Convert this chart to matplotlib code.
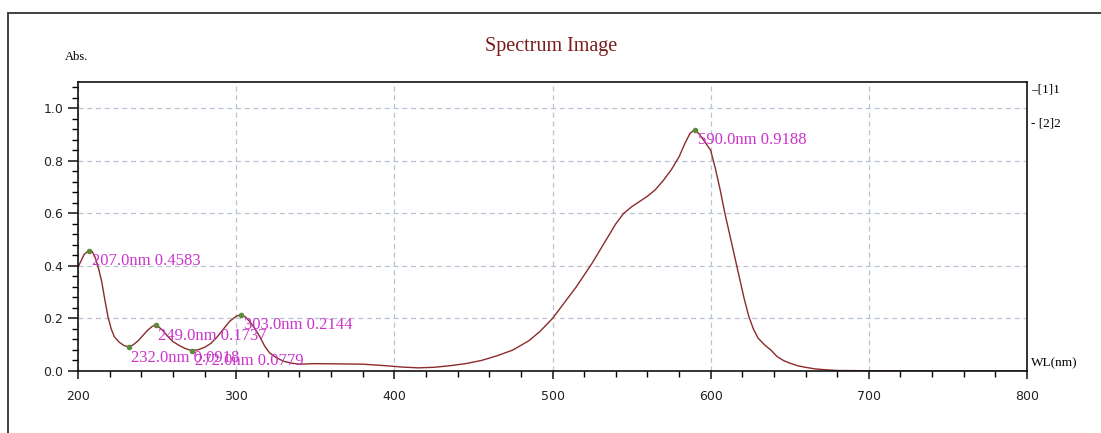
import matplotlib.pyplot as plt
from matplotlib.patches import Rectangle
from matplotlib.ticker import MultipleLocator

# absorbance spectrum
wl = [200, 202, 204, 207, 209, 211, 213, 215, 217, 219, 221, 223, 226, 229,
      232, 235, 238, 241, 244, 247, 249, 251, 254, 257, 260, 264, 268, 272,
      276, 280, 284, 288, 292, 296, 300, 303, 306, 309, 312, 315, 318, 321,
      325, 330, 335, 340, 350, 365, 380, 395, 405, 415, 425, 435, 445, 455,
      465, 475, 485, 492, 500, 505, 510, 515, 520, 525, 530, 535, 540, 545,
      550, 555, 560, 565, 570, 575, 580, 584, 587, 590, 593, 596, 600, 603,
      606, 609, 612, 615, 618, 621, 624, 627, 630, 634, 638, 642, 646, 650,
      655, 660, 666, 672, 680, 700, 750, 800]
absb = [0.395, 0.42, 0.445, 0.4583, 0.455, 0.43, 0.39, 0.34, 0.27, 0.205,
        0.16, 0.13, 0.11, 0.097, 0.0918, 0.1, 0.115, 0.135, 0.155, 0.17,
        0.1737, 0.168, 0.152, 0.13, 0.112, 0.097, 0.085, 0.0779, 0.081,
        0.09, 0.105, 0.13, 0.16, 0.19, 0.208, 0.2144, 0.205, 0.185, 0.16,
        0.13, 0.095, 0.07, 0.052, 0.037, 0.03, 0.026, 0.028, 0.027, 0.026,
        0.02, 0.015, 0.012, 0.014, 0.02, 0.028, 0.04, 0.058, 0.08, 0.115,
        0.15, 0.2, 0.24, 0.28, 0.32, 0.365, 0.41, 0.46, 0.51, 0.56, 0.6,
        0.625, 0.645, 0.665, 0.69, 0.725, 0.765, 0.815, 0.87, 0.905, 0.9188,
        0.9, 0.875, 0.84, 0.77, 0.69, 0.6, 0.52, 0.44, 0.36, 0.28, 0.21,
        0.16, 0.125, 0.1, 0.08, 0.055, 0.04, 0.03, 0.02, 0.014, 0.008,
        0.005, 0.002, 0.001, 0.0, 0.0]

# picked peaks / valleys
peak_wl = [207.0, 232.0, 249.0, 272.0, 303.0, 590.0]
peak_abs = [0.4583, 0.0918, 0.1737, 0.0779, 0.2144, 0.9188]

serif = 'Liberation Serif'

fig = plt.figure(figsize=(11.01, 4.33), dpi=100)
fig.patches.append(Rectangle((8 / 1101, -0.1), 1.2, 1.1 - 13 / 433,
                             transform=fig.transFigure, fill=False,
                             edgecolor='#333333', lw=1.3))
ax = fig.add_axes([78 / 1101, 62 / 433, 949 / 1101, 289 / 433])

ax.plot(wl, absb, color='#8b2b2b', lw=1.0)
ax.plot(peak_wl, peak_abs, 'o', color='#5a8a3a', ms=3)
for x, y in zip(peak_wl, peak_abs):
    ax.annotate(f'{x:.1f}nm {y:.4f}', (x, y), xytext=(2, -2),
                textcoords='offset points', ha='left', va='top',
                color='#cc33cc', fontsize=12, family=serif)

ax.set_xlim(200, 800)
ax.set_ylim(0, 1.1)
ax.xaxis.set_major_locator(MultipleLocator(100))
ax.xaxis.set_minor_locator(MultipleLocator(20))
ax.yaxis.set_major_locator(MultipleLocator(0.2))
ax.yaxis.set_minor_locator(MultipleLocator(0.04))
ax.tick_params(axis='both', which='major', length=7, width=1.2, labelsize=9,
               colors='#222222', direction='out')
ax.tick_params(axis='both', which='minor', length=4, width=1.0, direction='out')
ax.tick_params(axis='x', which='major', length=6, pad=8)
ax.grid(True, which='major', ls=(0, (4, 3)), color='#b8c4d4', lw=0.9)
for s in ax.spines.values():
    s.set_linewidth(1.2)
    s.set_color('#111111')

fig.text(551 / 1101, 1 - 47 / 433, 'Spectrum Image', ha='center', va='center',
         color='#7a1a1a', fontsize=14.5, family=serif)
fig.text(65 / 1101, 1 - 57 / 433, 'Abs.', ha='left', va='center',
         fontsize=9, family=serif)
fig.text(1031 / 1101, 1 - 363 / 433, 'WL(nm)', ha='left', va='center',
         fontsize=9.5, family=serif)
fig.text(1031 / 1101, 1 - 90 / 433, '–[1]1', ha='left', va='center',
         fontsize=9.5, family=serif)
fig.text(1031 / 1101, 1 - 124 / 433, '- [2]2', ha='left', va='center',
         fontsize=9.5, family=serif)

fig.savefig('out.png', dpi=100)
